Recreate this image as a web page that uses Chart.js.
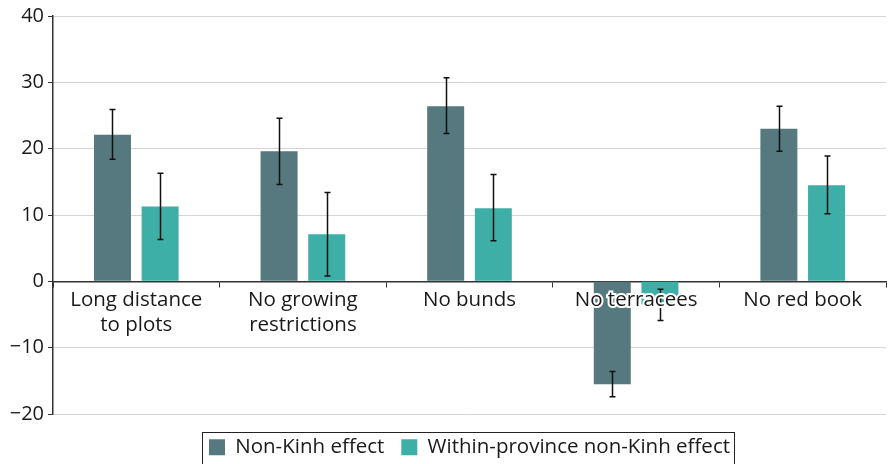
<!DOCTYPE html>
<html>
<head>
<meta charset="utf-8">
<script src="https://cdn.jsdelivr.net/npm/chart.js@4/dist/chart.umd.min.js"></script>
<style>
  html, body { margin: 0; padding: 0; background: #ffffff; }
  #wrap { width: 888px; height: 464px; position: relative; }
</style>
</head>
<body>
<div id="wrap"><canvas id="c"></canvas></div>
<script>
const categories = [["Long distance", "to plots"], ["No growing", "restrictions"], ["No bunds"], ["No terracees"], ["No red book"]];
const seriesNames = ["Non-Kinh effect", "Within-province non-Kinh effect"];
const nonKinh = [22.1, 19.6, 26.4, -15.5, 23.0];
const nonKinhLow = [18.4, 14.6, 22.3, -17.4, 19.6];
const nonKinhHigh = [25.9, 24.6, 30.7, -13.6, 26.4];
const withinProv = [11.3, 7.1, 11.0, -3.5, 14.5];
const withinProvLow = [6.3, 0.8, 6.1, -5.9, 10.2];
const withinProvHigh = [16.3, 13.4, 16.1, -1.2, 18.9];
const yTicks = [-20, -10, 0, 10, 20, 30, 40];

const FONT = "'Open Sans', 'Noto Sans', sans-serif";
const errorBounds = [[nonKinhLow, nonKinhHigh], [withinProvLow, withinProvHigh]];

const errorBarPlugin = {
  id: 'errorBars',
  afterDatasetsDraw(chart) {
    const ctx = chart.ctx;
    const yScale = chart.scales.y;
    ctx.save();
    ctx.strokeStyle = '#111';
    ctx.lineWidth = 1.5;
    chart.data.datasets.forEach((ds, di) => {
      const meta = chart.getDatasetMeta(di);
      meta.data.forEach((el, i) => {
        const lo = yScale.getPixelForValue(errorBounds[di][0][i]);
        const hi = yScale.getPixelForValue(errorBounds[di][1][i]);
        const x = Math.round(el.x) + 0.5;
        ctx.beginPath();
        ctx.moveTo(x, lo); ctx.lineTo(x, hi);
        ctx.moveTo(x - 3, lo); ctx.lineTo(x + 3, lo);
        ctx.moveTo(x - 3, hi); ctx.lineTo(x + 3, hi);
        ctx.stroke();
      });
    });
    ctx.restore();
  }
};

const legendPlacePlugin = {
  id: 'legendPlace',
  beforeLayout(chart) {
    const lg = chart.legend;
    if (lg && !lg._patchedFit) {
      const origFit = lg.fit;
      lg.fit = function () { origFit.call(this); this.height = 50; };
      lg._patchedFit = true;
    }
  },
  afterLayout(chart) {
    const lg = chart.legend;
    if (lg) { lg.top += 6; lg.bottom += 6; }
  },
  afterDraw(chart) {
    const lg = chart.legend;
    if (!lg || !lg.legendHitBoxes || !lg.legendHitBoxes.length) return;
    let l = Infinity, r = -Infinity, c = 0;
    lg.legendHitBoxes.forEach(h => {
      l = Math.min(l, h.left); r = Math.max(r, h.left + h.width);
      c = h.top + h.height / 2;
    });
    const ctx = chart.ctx;
    ctx.save();
    ctx.strokeStyle = '#222';
    ctx.lineWidth = 1;
    const top = Math.round(c - 15) + 0.5;
    ctx.strokeRect(Math.round(l - 7) + 0.5, top, Math.round(r - l + 11), 40);
    ctx.restore();
  }
};

new Chart(document.getElementById('c'), {
  type: 'bar',
  data: {
    labels: categories,
    datasets: [
      { label: seriesNames[0], data: nonKinh, backgroundColor: '#55797e', barPercentage: 0.776, categoryPercentage: 0.572 },
      { label: seriesNames[1], data: withinProv, backgroundColor: '#3dafa6', barPercentage: 0.776, categoryPercentage: 0.572 }
    ]
  },
  options: {
    responsive: true,
    maintainAspectRatio: false,
    animation: false,
    layout: { padding: { top: 6, right: 2, left: 0, bottom: 0 } },
    plugins: {
      legend: {
        position: 'bottom',
        fullSize: false,
        labels: {
          font: { family: FONT, size: 20.5 },
          color: '#1a1a1a',
          boxWidth: 16,
          boxHeight: 16,
          padding: 17
        }
      },
      tooltip: { enabled: false }
    },
    scales: {
      x: {
        position: { y: 0 },
        grid: { drawOnChartArea: false, drawTicks: true, tickLength: 5, offset: true, tickColor: '#333' },
        border: { color: '#333', width: 1.5 },
        ticks: {
          font: { family: FONT, size: 20.5, lineHeight: 1.22 },
          color: '#1a1a1a',
          padding: 1,
          maxRotation: 0,
          autoSkip: false,
          z: 1,
          textStrokeColor: '#ffffff',
          textStrokeWidth: 4
        }
      },
      y: {
        min: yTicks[0],
        max: yTicks[yTicks.length - 1],
        afterBuildTicks(scale) { scale.ticks = yTicks.map(v => ({ value: v })); },
        afterFit(scale) { scale.width = 53; },
        grid: { color: '#d4d4d4', lineWidth: 1, tickLength: 5, tickColor: '#333' },
        border: { color: '#333', width: 1.5 },
        ticks: {
          font: { family: FONT, size: 20 },
          color: '#1a1a1a',
          padding: 4,
          callback: v => String(v).replace('-', '\u2212')
        }
      }
    }
  },
  plugins: [errorBarPlugin, legendPlacePlugin]
});
</script>
</body>
</html>
